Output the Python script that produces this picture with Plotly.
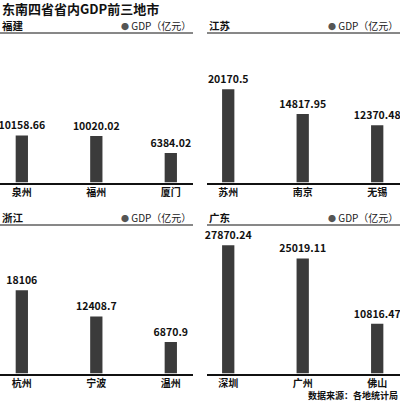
import plotly.graph_objects as go

# data
provinces = ["福建", "江苏", "浙江", "广东"]
cities = [
    ["泉州", "福州", "厦门"],
    ["苏州", "南京", "无锡"],
    ["杭州", "宁波", "温州"],
    ["深圳", "广州", "佛山"],
]
gdp = [
    [10158.66, 10020.02, 6384.02],
    [20170.5, 14817.95, 12370.48],
    [18106, 12408.7, 6870.9],
    [27870.24, 25019.11, 10816.47],
]

W, H = 400, 401
FONT = "Noto Sans CJK SC, Noto Sans, sans-serif"
BAR = "#3b3b3b"

# panel boxes in pixels: (x0, x1, y_top, y_base)
boxes = [(0, 193, 33, 182.5), (207, 400, 33, 182.5),
         (0, 193, 225, 373.5), (207, 400, 225, 373.5)]
xranges = [[-0.293, 2.298], [-0.285, 2.306], [-0.293, 2.298], [-0.285, 2.306]]
YMAX = 32300

fig = go.Figure()
layout = {}
annotations = []
shapes = []

for i, (prov, names, vals) in enumerate(zip(provinces, cities, gdp)):
    x0, x1, yt, yb = boxes[i]
    n = "" if i == 0 else str(i + 1)
    fig.add_trace(go.Bar(
        x=names, y=vals,
        xaxis="x" + n, yaxis="y" + n,
        width=0.165,
        marker=dict(color=BAR, line=dict(width=0)),
        text=[str(v) for v in vals],
        textposition="outside",
        constraintext="none",
        cliponaxis=False,
        textfont=dict(family=FONT, size=10.5, color="#111", weight="bold"),
        showlegend=False,
        hoverinfo="skip",
    ))
    dx = [x0 / W, x1 / W]
    dy = [1 - yb / H, 1 - yt / H]
    layout["xaxis" + n] = dict(
        domain=dx, range=xranges[i], type="category",
        showline=True, linecolor="#111", linewidth=1.5,
        showgrid=False, ticks="", fixedrange=True,
        tickfont=dict(family=FONT, size=10, color="#111", weight="bold"),
        anchor="y" + n,
    )
    layout["yaxis" + n] = dict(
        domain=dy, range=[0, YMAX], visible=False, showgrid=False,
        anchor="x" + n,
    )
    # header underline
    shapes.append(dict(type="line", xref="paper", yref="paper",
                       x0=dx[0], x1=dx[1], y0=dy[1], y1=dy[1],
                       line=dict(color="#111", width=1)))
    # province name
    annotations.append(dict(
        x=dx[0], y=dy[1], xref="paper", yref="paper",
        xanchor="left", yanchor="bottom", yshift=-2, showarrow=False,
        text=f"<b>{prov}</b>",
        font=dict(family=FONT, size=10.5, color="#111"),
    ))
    # legend-like label
    annotations.append(dict(
        x=dx[1], y=dy[1], xref="paper", yref="paper",
        xanchor="right", yanchor="bottom", yshift=-2, showarrow=False,
        text="<span style='color:#555;font-size:8px'>●</span> GDP（亿元）",
        font=dict(family=FONT, size=10, color="#222"),
    ))

annotations.append(dict(
    x=0, y=1, xref="paper", yref="paper", xanchor="left", yanchor="top",
    yshift=3, showarrow=False, text="<b>东南四省省内GDP前三地市</b>",
    font=dict(family=FONT, size=13, color="#111"),
))
annotations.append(dict(
    x=1, y=0, xref="paper", yref="paper", xanchor="right", yanchor="bottom",
    yshift=-3, showarrow=False, text="<b>数据来源：各地统计局</b>",
    font=dict(family=FONT, size=9, color="#111"),
))

fig.update_layout(
    width=W, height=H,
    margin=dict(l=0, r=0, t=0, b=0),
    paper_bgcolor="white", plot_bgcolor="white",
    annotations=annotations, shapes=shapes,
    **layout,
)

fig.write_html(
    "out.html",
    config={"displayModeBar": False},
    post_script="document.body.style.margin='0';document.body.style.padding='0';",
)
